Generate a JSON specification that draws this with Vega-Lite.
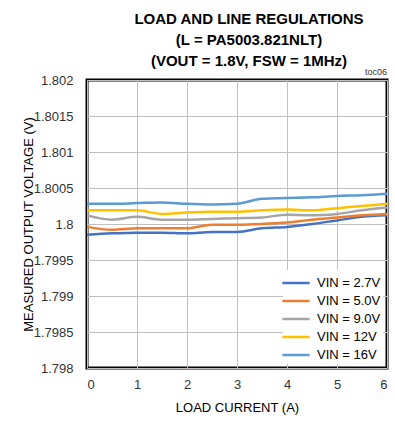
{
  "$schema": "https://vega.github.io/schema/vega-lite/v6.json",
  "width": 300,
  "height": 288,
  "autosize": {"type": "none"},
  "padding": {"left": 87, "top": 80, "right": 8, "bottom": 57},
  "background": "white",
  "title": {
    "text": ["LOAD AND LINE REGULATIONS", "(L = PA5003.821NLT)", "(VOUT = 1.8V, FSW = 1MHz)"],
    "anchor": "middle",
    "dx": 12,
    "offset": -1,
    "font": "Liberation Sans",
    "fontSize": 15,
    "fontWeight": "bold",
    "lineHeight": 21,
    "color": "black"
  },
  "config": {
    "font": "Liberation Sans",
    "view": {"stroke": "black", "strokeWidth": 3},
    "axis": {
      "domain": false,
      "ticks": false,
      "labelOverlap": false,
      "gridColor": "#c0c0c0",
      "gridWidth": 1,
      "labelFont": "Liberation Sans",
      "labelFontSize": 13,
      "labelColor": "#333333",
      "titleFont": "Liberation Sans",
      "titleFontSize": 13,
      "titleFontWeight": "normal",
      "titleColor": "black"
    }
  },
  "data": {
    "values": [
      {"I": 0, "V": 1.79985, "s": "VIN = 2.7V"},
      {"I": 0.5, "V": 1.79987, "s": "VIN = 2.7V"},
      {"I": 1, "V": 1.79988, "s": "VIN = 2.7V"},
      {"I": 1.5, "V": 1.79988, "s": "VIN = 2.7V"},
      {"I": 2, "V": 1.79987, "s": "VIN = 2.7V"},
      {"I": 2.5, "V": 1.79989, "s": "VIN = 2.7V"},
      {"I": 3, "V": 1.79989, "s": "VIN = 2.7V"},
      {"I": 3.5, "V": 1.79994, "s": "VIN = 2.7V"},
      {"I": 4, "V": 1.79996, "s": "VIN = 2.7V"},
      {"I": 4.5, "V": 1.8, "s": "VIN = 2.7V"},
      {"I": 5, "V": 1.80005, "s": "VIN = 2.7V"},
      {"I": 5.5, "V": 1.8001, "s": "VIN = 2.7V"},
      {"I": 6, "V": 1.80012, "s": "VIN = 2.7V"},

      {"I": 0, "V": 1.79996, "s": "VIN = 5.0V"},
      {"I": 0.5, "V": 1.79992, "s": "VIN = 5.0V"},
      {"I": 1, "V": 1.79994, "s": "VIN = 5.0V"},
      {"I": 1.5, "V": 1.79994, "s": "VIN = 5.0V"},
      {"I": 2, "V": 1.79994, "s": "VIN = 5.0V"},
      {"I": 2.5, "V": 1.79999, "s": "VIN = 5.0V"},
      {"I": 3, "V": 1.79999, "s": "VIN = 5.0V"},
      {"I": 3.5, "V": 1.8, "s": "VIN = 5.0V"},
      {"I": 4, "V": 1.80002, "s": "VIN = 5.0V"},
      {"I": 4.5, "V": 1.80006, "s": "VIN = 5.0V"},
      {"I": 5, "V": 1.80009, "s": "VIN = 5.0V"},
      {"I": 5.5, "V": 1.80012, "s": "VIN = 5.0V"},
      {"I": 6, "V": 1.80014, "s": "VIN = 5.0V"},

      {"I": 0, "V": 1.80012, "s": "VIN = 9.0V"},
      {"I": 0.5, "V": 1.80006, "s": "VIN = 9.0V"},
      {"I": 1, "V": 1.8001, "s": "VIN = 9.0V"},
      {"I": 1.5, "V": 1.80006, "s": "VIN = 9.0V"},
      {"I": 2, "V": 1.80006, "s": "VIN = 9.0V"},
      {"I": 2.5, "V": 1.80007, "s": "VIN = 9.0V"},
      {"I": 3, "V": 1.80008, "s": "VIN = 9.0V"},
      {"I": 3.5, "V": 1.80009, "s": "VIN = 9.0V"},
      {"I": 4, "V": 1.80013, "s": "VIN = 9.0V"},
      {"I": 4.5, "V": 1.80012, "s": "VIN = 9.0V"},
      {"I": 5, "V": 1.80014, "s": "VIN = 9.0V"},
      {"I": 5.5, "V": 1.80019, "s": "VIN = 9.0V"},
      {"I": 6, "V": 1.80023, "s": "VIN = 9.0V"},

      {"I": 0, "V": 1.80019, "s": "VIN = 12V"},
      {"I": 0.5, "V": 1.80019, "s": "VIN = 12V"},
      {"I": 1, "V": 1.80019, "s": "VIN = 12V"},
      {"I": 1.5, "V": 1.80014, "s": "VIN = 12V"},
      {"I": 2, "V": 1.80016, "s": "VIN = 12V"},
      {"I": 2.5, "V": 1.80017, "s": "VIN = 12V"},
      {"I": 3, "V": 1.80017, "s": "VIN = 12V"},
      {"I": 3.5, "V": 1.80019, "s": "VIN = 12V"},
      {"I": 4, "V": 1.8002, "s": "VIN = 12V"},
      {"I": 4.5, "V": 1.80019, "s": "VIN = 12V"},
      {"I": 5, "V": 1.80022, "s": "VIN = 12V"},
      {"I": 5.5, "V": 1.80025, "s": "VIN = 12V"},
      {"I": 6, "V": 1.80028, "s": "VIN = 12V"},

      {"I": 0, "V": 1.80028, "s": "VIN = 16V"},
      {"I": 0.5, "V": 1.80028, "s": "VIN = 16V"},
      {"I": 1, "V": 1.80029, "s": "VIN = 16V"},
      {"I": 1.5, "V": 1.8003, "s": "VIN = 16V"},
      {"I": 2, "V": 1.80028, "s": "VIN = 16V"},
      {"I": 2.5, "V": 1.80027, "s": "VIN = 16V"},
      {"I": 3, "V": 1.80028, "s": "VIN = 16V"},
      {"I": 3.5, "V": 1.80035, "s": "VIN = 16V"},
      {"I": 4, "V": 1.80036, "s": "VIN = 16V"},
      {"I": 4.5, "V": 1.80037, "s": "VIN = 16V"},
      {"I": 5, "V": 1.80039, "s": "VIN = 16V"},
      {"I": 5.5, "V": 1.8004, "s": "VIN = 16V"},
      {"I": 6, "V": 1.80042, "s": "VIN = 16V"}
    ]
  },
  "layer": [
    {
      "mark": {"type": "line", "interpolate": "monotone", "strokeWidth": 2.5},
      "encoding": {
        "x": {
          "field": "I", "type": "quantitative",
          "scale": {"domain": [0, 6], "nice": false},
          "axis": {"values": [0, 1, 2, 3, 4, 5, 6], "title": "LOAD CURRENT (A)", "labelPadding": 10, "titlePadding": 10}
        },
        "y": {
          "field": "V", "type": "quantitative",
          "scale": {"domain": [1.798, 1.802], "nice": false, "zero": false},
          "axis": {
            "tickCount": 8,
            "labelOverlap": false,
            "format": "~g",
            "title": "MEASURED OUTPUT VOLTAGE (V)",
            "labelPadding": 14,
            "titlePadding": -2
          }
        },
        "color": {
          "field": "s", "type": "nominal",
          "scale": {
            "domain": ["VIN = 2.7V", "VIN = 5.0V", "VIN = 9.0V", "VIN = 12V", "VIN = 16V"],
            "range": ["#4472C4", "#ED7D31", "#A5A5A5", "#FFC000", "#5B9BD5"]
          },
          "legend": {
            "title": null,
            "orient": "bottom-right",
            "offset": 4,
            "symbolType": "M-1.4,0H1.4",
            "symbolSize": 380,
            "symbolStrokeWidth": 2.5,
            "labelFontSize": 13,
            "labelColor": "black",
            "labelFont": "Liberation Sans",
            "labelOffset": 10,
            "rowPadding": -0.5,
            "fillColor": "white",
            "padding": 2
          }
        }
      }
    },
    {
      "data": {"values": [{"I": 6, "V": 1.802, "t": "toc06"}]},
      "mark": {"type": "text", "align": "right", "baseline": "bottom", "dy": -3, "fontSize": 9, "color": "#333333"},
      "encoding": {
        "x": {"field": "I", "type": "quantitative"},
        "y": {"field": "V", "type": "quantitative"},
        "text": {"field": "t"}
      }
    }
  ]
}
